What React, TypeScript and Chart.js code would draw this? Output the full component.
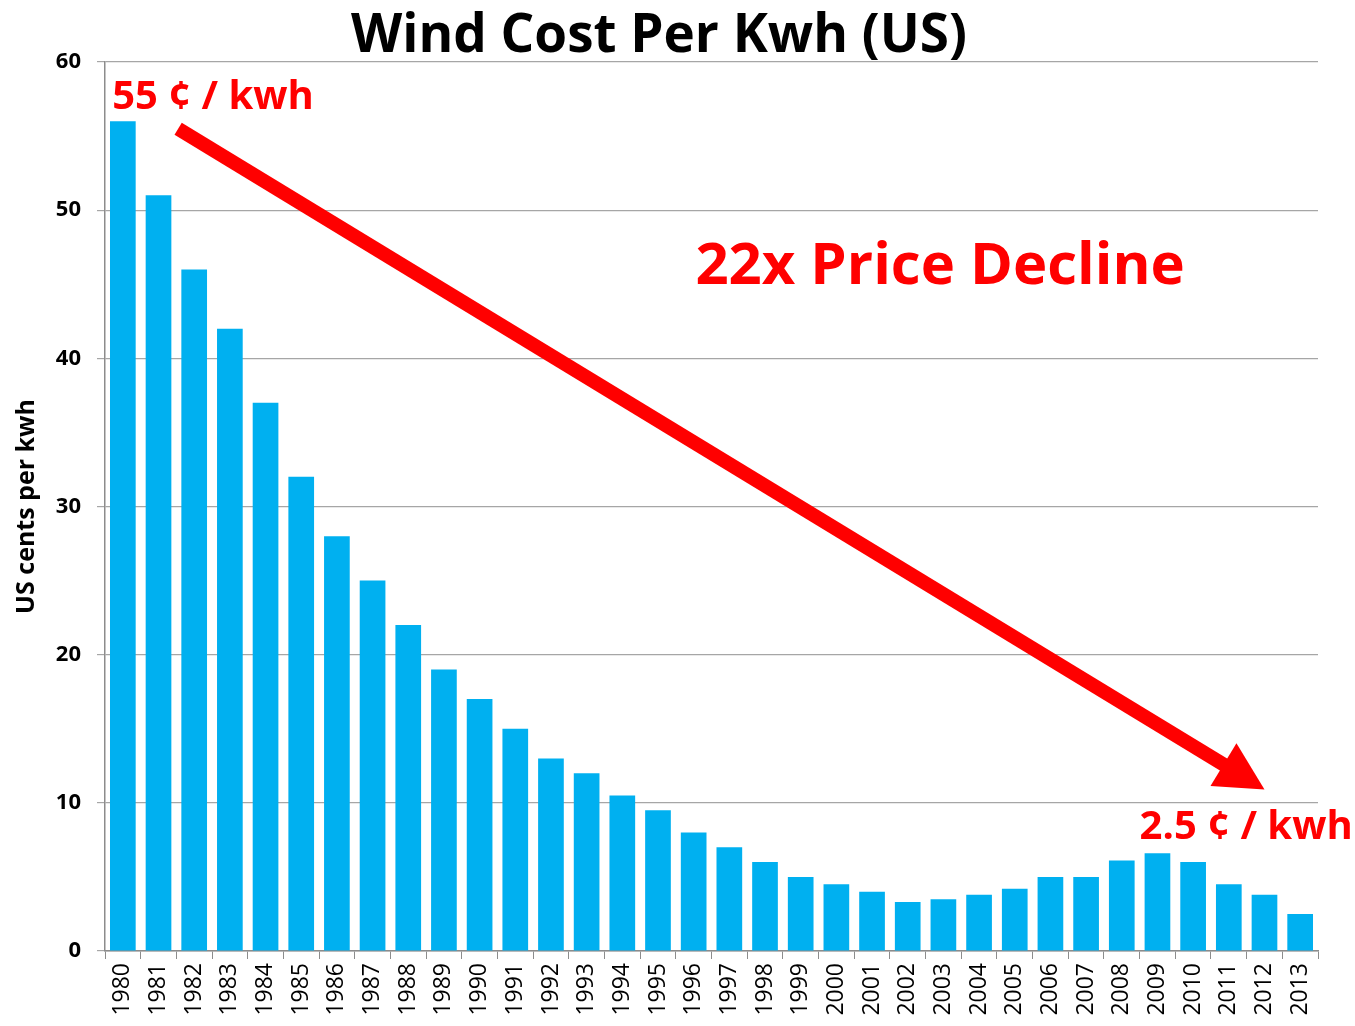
import React, { useEffect, useRef } from "react";
import { Chart, registerables } from "chart.js";

Chart.register(...registerables);

const years = [
  "1980", "1981", "1982", "1983", "1984", "1985", "1986", "1987", "1988", "1989",
  "1990", "1991", "1992", "1993", "1994", "1995", "1996", "1997", "1998", "1999",
  "2000", "2001", "2002", "2003", "2004", "2005", "2006", "2007", "2008", "2009",
  "2010", "2011", "2012", "2013",
];

const centsPerKwh = [
  56, 51, 46, 42, 37, 32, 28, 25, 22, 19,
  17, 15, 13, 12, 10.5, 9.5, 8, 7, 6, 5,
  4.5, 4, 3.3, 3.5, 3.8, 4.2, 5, 5, 6.1, 6.6,
  6, 4.5, 3.8, 2.5,
];

const yTicks = [0, 10, 20, 30, 40, 50, 60];

const titleText = "Wind Cost Per Kwh (US)";
const yAxisTitle = "US cents per kwh";
const startLabel = "55 ¢ / kwh";
const endLabel = "2.5 ¢ / kwh";
const declineLabel = "22x Price Decline";

// annotation anchors in data coordinates (category index, value)
const arrowStart = [1.55, 55.5];
const arrowEnd = [32.0, 10.9];
const startLabelPos = [-0.3, 57.6];
const endLabelPos = [28.5, 8.3];
const declineLabelPos = [16.05, 46.1];

const FONT = "'Open Sans', 'DejaVu Sans', sans-serif";
const RED = "#FF0000";

const annotationPlugin = {
  id: "windAnnotations",
  afterDatasetsDraw(chart: any) {
    const { ctx, scales } = chart;
    const xs = scales.x;
    const ys = scales.y;
    const px = (i: number) => {
      const a = xs.getPixelForValue(0);
      const b = xs.getPixelForValue(1);
      return a + (b - a) * i;
    };
    const py = (v: number) => ys.getPixelForValue(v);

    ctx.save();
    // arrow
    const x1 = px(arrowStart[0]);
    const y1 = py(arrowStart[1]);
    const x2 = px(arrowEnd[0]);
    const y2 = py(arrowEnd[1]);
    const dx = x2 - x1;
    const dy = y2 - y1;
    const len = Math.sqrt(dx * dx + dy * dy);
    const ux = dx / len;
    const uy = dy / len;
    const headLen = 48;
    const headHalf = 25;
    const bx = x2 - ux * headLen;
    const by = y2 - uy * headLen;
    ctx.strokeStyle = RED;
    ctx.fillStyle = RED;
    ctx.lineWidth = 14;
    ctx.lineCap = "butt";
    ctx.beginPath();
    ctx.moveTo(x1, y1);
    ctx.lineTo(bx + ux * 2, by + uy * 2);
    ctx.stroke();
    ctx.beginPath();
    ctx.moveTo(x2, y2);
    ctx.lineTo(bx - uy * headHalf, by + ux * headHalf);
    ctx.lineTo(bx + uy * headHalf, by - ux * headHalf);
    ctx.closePath();
    ctx.fill();

    // labels
    ctx.textBaseline = "middle";
    ctx.textAlign = "left";
    ctx.font = `bold 40px ${FONT}`;
    ctx.fillText(startLabel, px(startLabelPos[0]), py(startLabelPos[1]));
    ctx.fillText(endLabel, px(endLabelPos[0]), py(endLabelPos[1]));
    ctx.font = `bold 58px ${FONT}`;
    ctx.fillText(declineLabel, px(declineLabelPos[0]), py(declineLabelPos[1]));
    ctx.restore();
  },
};

export default function App() {
  const canvasRef = useRef<HTMLCanvasElement | null>(null);

  useEffect(() => {
    document.body.style.margin = "0";
    const canvas = canvasRef.current;
    if (!canvas) return;
    const chart = new Chart(canvas, {
      type: "bar",
      data: {
        labels: years,
        datasets: [
          {
            label: "US cents per kwh",
            data: centsPerKwh,
            backgroundColor: "#00B0F0",
            borderWidth: 0,
            categoryPercentage: 1,
            barPercentage: 0.72,
          },
        ],
      },
      options: {
        responsive: false,
        animation: false,
        devicePixelRatio: 1,
        layout: { padding: { left: 0, right: 37, top: 0, bottom: 0 } },
        plugins: {
          legend: { display: false },
          tooltip: { enabled: false },
          title: {
            display: true,
            text: titleText,
            color: "#000000",
            font: { family: FONT, size: 53, weight: "bold", lineHeight: 1.0 },
            padding: { top: 10, bottom: -1 },
          },
        },
        scales: {
          x: {
            afterFit: (s: any) => {
              s.height = 75;
            },
            grid: {
              display: true,
              drawOnChartArea: false,
              drawTicks: true,
              tickLength: 8,
              color: "#8C8C8C",
              offset: true,
            },
            border: { display: true, color: "#8C8C8C", width: 1.5 },
            ticks: {
              color: "#000000",
              font: { family: FONT, size: 23 },
              minRotation: 90,
              maxRotation: 90,
              autoSkip: false,
              padding: 4,
            },
          },
          y: {
            min: 0,
            max: 60,
            afterFit: (s: any) => {
              s.width = 105;
            },
            afterBuildTicks: (s: any) => {
              s.ticks = yTicks.map((v) => ({ value: v }));
            },
            grid: {
              color: "#A6A6A6",
              lineWidth: 1.2,
              drawTicks: true,
              tickLength: 8,
            },
            border: { display: true, color: "#8C8C8C", width: 1.5 },
            ticks: {
              color: "#000000",
              font: { family: FONT, size: 22, weight: "bold" },
              padding: 16,
            },
            title: {
              display: true,
              text: yAxisTitle,
              color: "#000000",
              font: { family: FONT, size: 25, weight: "bold" },
              padding: { top: 12, bottom: 0 },
            },
          },
        },
      },
      plugins: [annotationPlugin],
    });
    return () => chart.destroy();
  }, []);

  return (
    <div style={{ position: "absolute", left: 0, top: 0, width: 1355, height: 1026, background: "#ffffff" }}>
      <canvas ref={canvasRef} width={1355} height={1026} style={{ display: "block" }} />
    </div>
  );
}
